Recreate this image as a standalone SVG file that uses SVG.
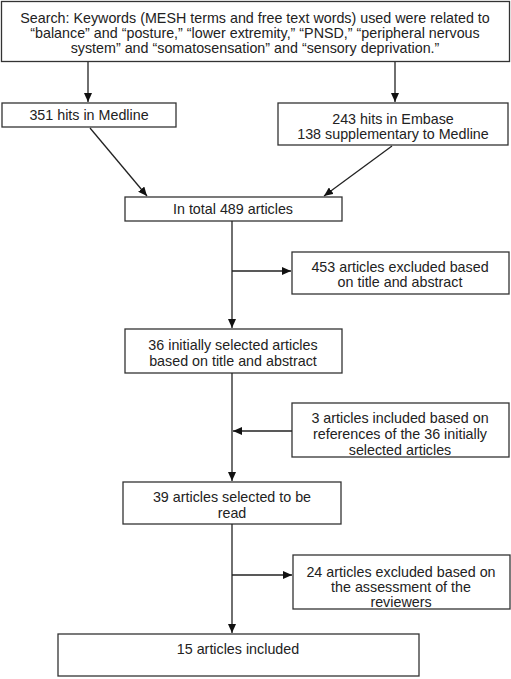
<svg xmlns="http://www.w3.org/2000/svg" width="511" height="679" viewBox="0 0 511 679">
<defs>
<style>
.box{fill:#fff;stroke:#333;stroke-width:1.3}
.t{font-family:"Liberation Sans",Arial,sans-serif;font-size:14.3px;fill:#222;text-anchor:middle}
.c{stroke:#222;stroke-width:1.3;fill:none}
</style>
<marker id="ah" markerWidth="10" markerHeight="8" refX="9" refY="4" orient="auto" markerUnits="userSpaceOnUse">
<path d="M0,0 L9,4 L0,8 Z" fill="#111"/>
</marker>
</defs>
<rect width="511" height="679" fill="#fff"/>
<g id="search">
<rect class="box" x="1.5" y="1.5" width="508" height="60"/>
<text class="t" x="255" y="23">Search: Keywords (MESH terms and free text words) used were related to</text>
<text class="t" x="255" y="38">“balance” and “posture,” “lower extremity,” “PNSD,” “peripheral nervous</text>
<text class="t" x="255" y="53">system” and “somatosensation” and “sensory deprivation.”</text>
</g>
<g id="medline">
<rect class="box" x="2" y="103" width="174" height="24"/>
<text class="t" x="89" y="120">351 hits in Medline</text>
</g>
<g id="embase">
<rect class="box" x="278" y="103" width="230" height="42"/>
<text class="t" x="393" y="124">243 hits in Embase</text>
<text class="t" x="393" y="139">138 supplementary to Medline</text>
</g>
<g id="total">
<rect class="box" x="125" y="197" width="217" height="24"/>
<text class="t" x="233" y="214">In total 489 articles</text>
</g>
<g id="excluded453">
<rect class="box" x="292" y="252" width="217" height="42"/>
<text class="t" x="400" y="272">453 articles excluded based</text>
<text class="t" x="400" y="287">on title and abstract</text>
</g>
<g id="selected36">
<rect class="box" x="125" y="329" width="217" height="44"/>
<text class="t" x="233" y="350">36 initially selected articles</text>
<text class="t" x="233" y="366">based on title and abstract</text>
</g>
<g id="included3">
<rect class="box" x="292" y="403" width="217" height="54"/>
<text class="t" x="400" y="423">3 articles included based on</text>
<text class="t" x="400" y="439">references of the 36 initially</text>
<text class="t" x="400" y="455">selected articles</text>
</g>
<g id="selected39">
<rect class="box" x="123" y="482" width="218" height="42"/>
<text class="t" x="232" y="502">39 articles selected to be</text>
<text class="t" x="232" y="518">read</text>
</g>
<g id="excluded24">
<rect class="box" x="293" y="555" width="217" height="54"/>
<text class="t" x="401" y="577">24 articles excluded based on</text>
<text class="t" x="401" y="592">the assessment of the</text>
<text class="t" x="401" y="607">reviewers</text>
</g>
<g id="included15">
<rect class="box" x="58" y="634" width="361" height="42"/>
<text class="t" x="238" y="654">15 articles included</text>
</g>
<g id="connectors">
<line class="c" x1="88" y1="62" x2="88" y2="102" marker-end="url(#ah)"/>
<line class="c" x1="395" y1="62" x2="395" y2="102" marker-end="url(#ah)"/>
<line class="c" x1="90" y1="128" x2="147" y2="196" marker-end="url(#ah)"/>
<line class="c" x1="392" y1="146" x2="324" y2="196" marker-end="url(#ah)"/>
<line class="c" x1="232" y1="221" x2="232" y2="328" marker-end="url(#ah)"/>
<line class="c" x1="232" y1="271" x2="291" y2="271" marker-end="url(#ah)"/>
<line class="c" x1="232" y1="373" x2="232" y2="481" marker-end="url(#ah)"/>
<line class="c" x1="292" y1="431" x2="233" y2="431" marker-end="url(#ah)"/>
<line class="c" x1="232" y1="524" x2="232" y2="633" marker-end="url(#ah)"/>
<line class="c" x1="232" y1="575" x2="292" y2="575" marker-end="url(#ah)"/>
</g>
</svg>
